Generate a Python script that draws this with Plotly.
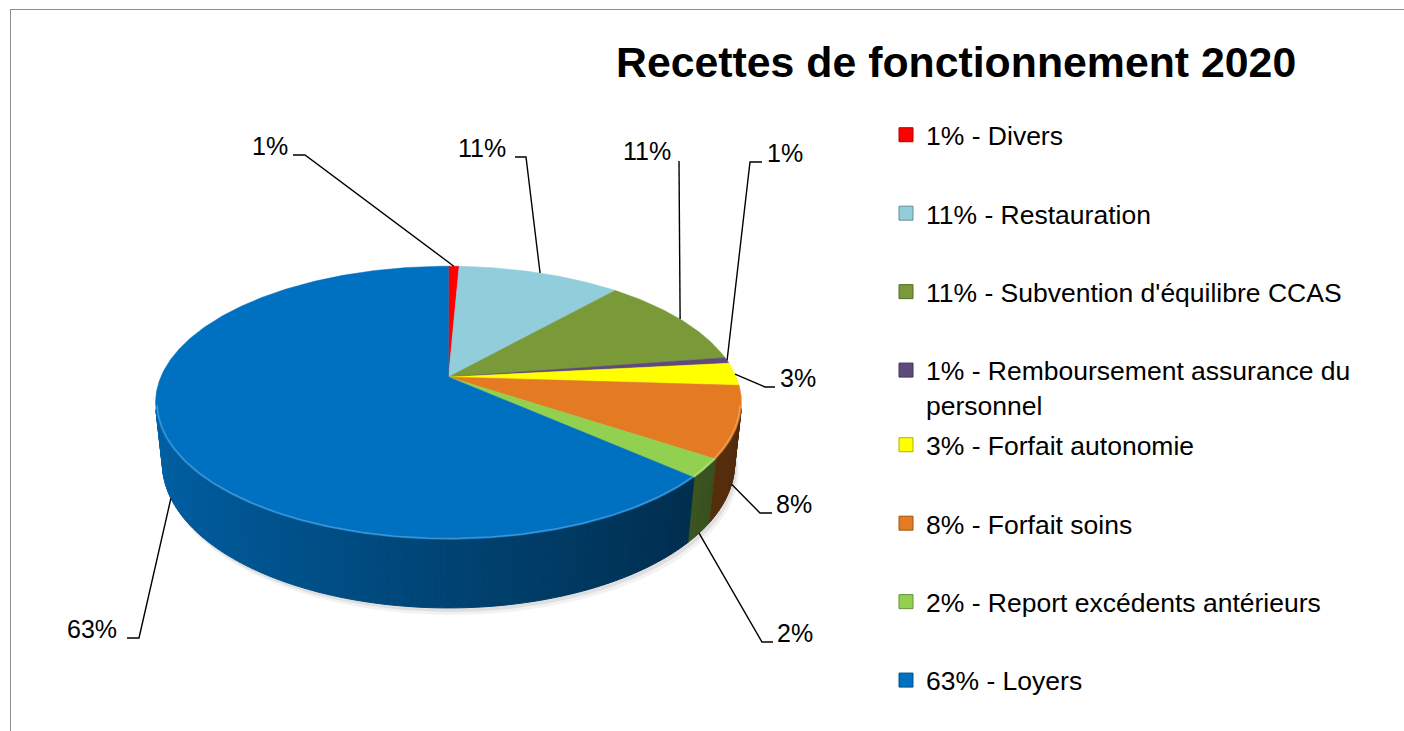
import numpy as np
import plotly.graph_objects as go

# ---------------- data ----------------
title_text = "Recettes de fonctionnement 2020"
categories = [
    "Divers",
    "Restauration",
    "Subvention d'équilibre CCAS",
    "Remboursement assurance du personnel",
    "Forfait autonomie",
    "Forfait soins",
    "Report excédents antérieurs",
    "Loyers",
]
values = [0.7, 10.8, 11.1, 0.7, 2.7, 8.4, 2.2, 63.4]
colors = ["#FF0000", "#92CDDC", "#7A9A3A", "#604A7B",
          "#FFFF00", "#E47A22", "#92D050", "#0070C0"]
legend_wrap = {"Remboursement assurance du personnel": "Remboursement assurance du<br>personnel"}

# ---------------- layout helpers (positions, not data) ----------------
label_pos = [(250, 146), (456, 148), (621, 151), (765, 153),
             (778, 378), (774, 504), (775, 633), (65, 629)]
leader_stub = [((293, 155), (305, 155)), ((515, 157), (526, 157)),
               ((679, 161), (679, 161)), ((762, 162), (750, 162)),
               ((775, 387), (765, 387)), ((772, 513), (760, 513)),
               ((773, 642), (762, 642)), ((127, 638), (139, 638))]

# perspective projection of the tilted disc (pixel space)
CX, CY, K, D, SP, CP, H = 448.5, 377.0, 1354.0, 4.706, 0.458, 0.889, 0.238


def proj(theta_deg, r=1.0, depth=0.0):
    t = np.radians(np.asarray(theta_deg, dtype=float))
    X = r * np.sin(t)
    Y = r * np.cos(t)
    yc = Y * SP - depth * CP
    zc = D + Y * CP + depth * SP
    return CX + K * X / zc, CY - K * yc / zc


def hex2rgb(h):
    h = h.lstrip("#")
    return tuple(int(h[i:i + 2], 16) for i in (0, 2, 4))


def shade(h, f):
    r, g, b = hex2rgb(h)
    c = lambda v: int(max(0, min(255, round(v))))
    if f <= 1:
        return "rgb(%d,%d,%d)" % (c(r * f), c(g * f), c(b * f))
    f2 = f - 1
    return "rgb(%d,%d,%d)" % (c(r + (255 - r) * f2), c(g + (255 - g) * f2), c(b + (255 - b) * f2))


total = float(sum(values))
cum = np.concatenate([[0.0], np.cumsum(values)]) / total * 360.0

fig = go.Figure()

# soft shadow under the pie
th_all = np.linspace(0, 360, 361)
for off, alpha in [(7, 0.05), (4, 0.08)]:
    bx, by = proj(th_all, 1.0, H)
    fig.add_trace(go.Scatter(x=bx + off * 0.6, y=by + off, mode="lines", fill="toself",
                             fillcolor="rgba(0,0,0,%.2f)" % alpha, line=dict(width=0),
                             showlegend=False, hoverinfo="skip"))

# side faces (only the visible, front-facing part)
step = 1.0
for i, col in enumerate(colors):
    a0, a1 = cum[i], cum[i + 1]
    n = max(1, int(np.ceil((a1 - a0) / step)))
    edges = np.linspace(a0, a1, n + 1)
    for j in range(n):
        ta, tb = edges[j], edges[j + 1]
        tm = 0.5 * (ta + tb)
        if 1 + D * CP * np.cos(np.radians(tm)) >= 0:
            continue
        xa, ya = proj([ta, tb], 1.0, 0.0)
        xb, yb = proj([tb, ta], 1.0, H)
        f = 0.6 - 0.26 * np.sin(np.radians(tm))
        c = shade(col, f)
        fig.add_trace(go.Scatter(x=list(xa) + list(xb) + [xa[0]], y=list(ya) + list(yb) + [ya[0]],
                                 mode="lines", fill="toself", fillcolor=c,
                                 line=dict(color=c, width=1), showlegend=False, hoverinfo="skip"))

# top faces
for i, col in enumerate(colors):
    a0, a1 = cum[i], cum[i + 1]
    th = np.linspace(a0, a1, max(3, int((a1 - a0) * 2) + 2))
    ax, ay = proj(th, 1.0, 0.0)
    xs = [CX] + list(ax) + [CX]
    ys = [CY] + list(ay) + [CY]
    fig.add_trace(go.Scatter(x=xs, y=ys, mode="lines", fill="toself", fillcolor=col,
                             line=dict(color=col, width=0.5), showlegend=False, hoverinfo="skip"))
    # light bevel on the front rim
    thf = th[np.cos(np.radians(th)) < -0.2]
    if len(thf) > 1:
        fx, fy = proj(thf, 0.995, 0.0)
        fig.add_trace(go.Scatter(x=fx, y=fy, mode="lines", line=dict(color=shade(col, 1.25), width=1.5),
                                 showlegend=False, hoverinfo="skip"))

# leader lines
lx, ly = [], []
for i in range(len(values)):
    tm = 0.5 * (cum[i] + cum[i + 1])
    dep = H if np.cos(np.radians(tm)) < -0.05 else 0.0
    px, py = proj(tm, 1.0, dep)
    (sx0, sy0), (sx1, sy1) = leader_stub[i]
    lx += [sx0, sx1, float(px), None]
    ly += [sy0, sy1, float(py), None]
fig.add_trace(go.Scatter(x=lx, y=ly, mode="lines", line=dict(color="black", width=1.4),
                         showlegend=False, hoverinfo="skip"))

# percentage labels
pct = ["%.0f%%" % (v / total * 100) for v in values]
for i, (x, y) in enumerate(label_pos):
    fig.add_annotation(x=x, y=y, xref="x", yref="y", text=pct[i], showarrow=False,
                       xanchor="left", yanchor="middle",
                       font=dict(family="Liberation Sans, Arial", size=25, color="black"))

# legend entries
for i, (cat, col) in enumerate(zip(categories, colors)):
    name = "%s - %s" % (pct[i], legend_wrap.get(cat, cat))
    fig.add_trace(go.Scatter(x=[None], y=[None], mode="markers", name=name,
                             marker=dict(symbol="square", size=14, color=col,
                                         line=dict(color=shade(col, 0.7), width=1)),
                             legendgroup="g%d" % i, legend="legend" if i < 4 else "legend2"))

legend_common = dict(font=dict(family="Liberation Sans, Arial", size=26.5, color="black"),
                     bgcolor="rgba(0,0,0,0)", tracegroupgap=41, xanchor="left", yanchor="top",
                     valign="top", itemclick=False, itemdoubleclick=False)

fig.update_layout(
    width=1404, height=731,
    margin=dict(l=0, r=0, t=0, b=0),
    paper_bgcolor="white", plot_bgcolor="white",
    xaxis=dict(range=[0, 1404], visible=False, fixedrange=True),
    yaxis=dict(range=[731, 0], visible=False, fixedrange=True),
    showlegend=True,
    legend=dict(x=886 / 1404, y=1 - 111 / 731, **legend_common),
    legend2=dict(x=886 / 1404, y=1 - 421 / 731, **legend_common),
    title=dict(text="<b>%s</b>" % title_text, x=616 / 1404, xanchor="left",
               y=1 - 62 / 731, yanchor="middle", yref="container",
               font=dict(family="Liberation Sans, Arial", size=42.8, color="black")),
    shapes=[
        dict(type="line", xref="paper", yref="paper", x0=10 / 1404, y0=1 - 9.5 / 731,
             x1=1.0, y1=1 - 9.5 / 731, line=dict(color="#8C8C8C", width=1), layer="below"),
        dict(type="line", xref="paper", yref="paper", x0=10.5 / 1404, y0=1 - 9.5 / 731,
             x1=10.5 / 1404, y1=0.0, line=dict(color="#8C8C8C", width=1), layer="below"),
    ],
)

fig.write_html(
    "out.html",
    config={"displayModeBar": False, "staticPlot": False},
    post_script="document.body.style.margin='0';document.body.style.overflow='hidden';"
                "document.documentElement.style.overflow='hidden';",
)
